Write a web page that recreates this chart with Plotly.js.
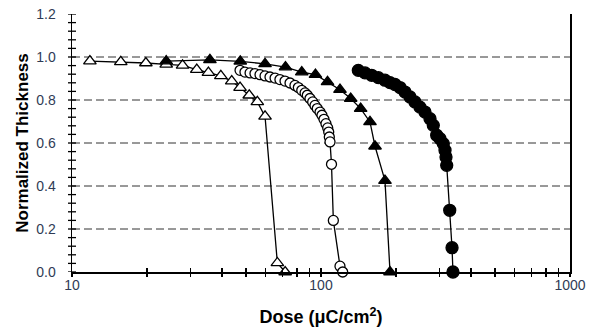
<!DOCTYPE html>
<html>
<head>
<meta charset="utf-8">
<script src="https://cdn.plot.ly/plotly-3.0.1.min.js"></script>
<style>html,body{margin:0;padding:0;background:#fff;}#chart{width:589px;height:333px;}</style>
</head>
<body>
<div id="chart"></div>
<script>
// Open triangles
const openTriX = [11.8, 15.7, 19.8, 23.9, 27.8, 31.7, 35.3, 39.6, 43.8, 47.3, 51.5, 55.5, 59.6, 66.8, 71.8];
const openTriY = [0.981, 0.977, 0.972, 0.966, 0.961, 0.941, 0.927, 0.912, 0.888, 0.858, 0.822, 0.791, 0.724, 0.042, 0.0];
// Open circles
const openCircX = [47.3, 49.5, 51.9, 54.3, 56.9, 59.6, 62.4, 65.4, 68.4, 71.7, 75.1, 78.6, 81.1, 83.7, 86.3, 88.1, 90.3, 92.6, 94.6, 96.6, 99.1, 100.9, 102.8, 104.7, 106.4, 107.4, 108.0, 108.7, 110.2, 112.1, 119.2, 122.2];
const openCircY = [0.938, 0.930, 0.926, 0.923, 0.918, 0.912, 0.907, 0.902, 0.895, 0.888, 0.879, 0.868, 0.858, 0.845, 0.833, 0.822, 0.807, 0.791, 0.775, 0.760, 0.744, 0.729, 0.710, 0.690, 0.670, 0.651, 0.628, 0.605, 0.501, 0.240, 0.027, 0.0];
// Filled triangles
const filledTriX = [23.9, 35.8, 47.4, 59.6, 72.0, 83.7, 95.0, 106.2, 119.2, 131.6, 144.3, 157.3, 164.8, 180.7, 189.3];
const filledTriY = [0.981, 0.987, 0.980, 0.968, 0.953, 0.930, 0.918, 0.884, 0.848, 0.807, 0.760, 0.698, 0.585, 0.425, 0.0];
// Filled circles
const filledCircX = [141.2, 150.2, 159.8, 169.9, 180.7, 189.3, 198.3, 207.7, 217.5, 227.8, 238.5, 249.7, 261.6, 274.0, 282.5, 291.5, 300.6, 309.8, 314.8, 317.7, 319.8, 328.8, 335.9, 338.8];
const filledCircY = [0.938, 0.926, 0.915, 0.904, 0.892, 0.881, 0.872, 0.858, 0.837, 0.814, 0.791, 0.767, 0.744, 0.713, 0.682, 0.636, 0.620, 0.597, 0.566, 0.535, 0.496, 0.287, 0.113, 0.0];

// Tick positions (major + minor) and labels
const xTickVals = [10, 20, 30, 40, 50, 60, 70, 80, 90, 100, 200, 300, 400, 500, 600, 700, 800, 900, 1000];
const xTickText = ['10', '', '', '', '', '', '', '', '', '100', '', '', '', '', '', '', '', '', '1000'];
const yTickVals = [0, 0.04, 0.08, 0.12, 0.16, 0.2, 0.24, 0.28, 0.32, 0.36, 0.4, 0.44, 0.48, 0.52, 0.56, 0.6, 0.64, 0.68, 0.72, 0.76, 0.8, 0.84, 0.88, 0.92, 0.96, 1.0, 1.04, 1.08, 1.12, 1.16, 1.2];
const yTickText = ['0.0', '', '', '', '', '0.2', '', '', '', '', '0.4', '', '', '', '', '0.6', '', '', '', '', '0.8', '', '', '', '', '1.0', '', '', '', '', '1.2'];
const gridVals = [0.2, 0.4, 0.6, 0.8, 1.0];
const xTitle = 'Dose (μC/cm<sup>2</sup>)';
const yTitle = 'Normalized Thickness';

function series(x, y, symbol, size, fill, name) {
  return {
    x: x, y: y, type: 'scatter', mode: 'lines+markers', name: name,
    line: {color: '#000', width: 1.3},
    marker: {symbol: symbol, size: size, color: fill, line: {color: '#000', width: 1.3}},
    cliponaxis: false
  };
}

const data = [
  series(openTriX, openTriY, 'triangle-up', 11, '#fff', 'open triangles'),
  series(openCircX, openCircY, 'circle', 10, '#fff', 'open circles'),
  series(filledTriX, filledTriY, 'triangle-up', 11, '#000', 'filled triangles'),
  series(filledCircX, filledCircY, 'circle', 12, '#000', 'filled circles'),
  {x: [], y: [], type: 'scatter', xaxis: 'x2', yaxis: 'y2', showlegend: false, hoverinfo: 'skip'},
  {x: [], y: [], type: 'scatter', xaxis: 'x3', yaxis: 'y3', showlegend: false, hoverinfo: 'skip'}
];

const tickFont = {family: 'Liberation Sans, Arial, sans-serif', size: 14, color: '#2f3b55'};
const yTitleFont = {family: 'Liberation Sans, Arial, sans-serif', size: 17, color: '#000', weight: 'bold'};
const xTitleFont = {family: 'Liberation Sans, Arial, sans-serif', size: 18, color: '#000', weight: 'bold'};

const plotWidthPx = 498;
const gridShapes = gridVals.map(v => ({
  type: 'line', xref: 'paper', yref: 'y', x0: 0, x1: 1, y0: v, y1: v,
  line: {color: '#333', width: 1, dash: '8px,4px'}, layer: 'below'
}));
// crossing tick marks on the y axis (4 px each side of the axis line)
const yTickShapes = yTickVals.map(v => ({
  type: 'line', xref: 'paper', yref: 'y', x0: -4 / plotWidthPx, x1: 4 / plotWidthPx, y0: v, y1: v,
  line: {color: '#000', width: 1.3}, layer: 'above'
}));

function tickAxisX(dir, anchor) {
  return {type: 'log', range: [1, 3], overlaying: 'x', anchor: anchor, side: 'bottom',
    tickmode: 'array', tickvals: xTickVals, showticklabels: false,
    showgrid: false, zeroline: false, showline: false,
    ticks: dir, ticklen: 4, tickwidth: 1.3, tickcolor: '#000'};
}
function tickAxisY(anchor) {
  return {range: [0, 1.2], overlaying: 'y', anchor: anchor, side: 'left',
    showticklabels: false, showgrid: false, zeroline: false, showline: false, ticks: ''};
}

const layout = {
  width: 589, height: 333,
  margin: {l: 72, r: 19, t: 14, b: 61},
  paper_bgcolor: '#fff', plot_bgcolor: '#fff',
  showlegend: false,
  shapes: gridShapes.concat(yTickShapes),
  xaxis: {
    type: 'log', range: [1, 3], tickmode: 'array', tickvals: xTickVals, ticktext: xTickText,
    showgrid: false, zeroline: false,
    showline: true, linecolor: '#000', linewidth: 1.5,
    ticks: 'outside', ticklen: 0, tickcolor: 'rgba(0,0,0,0)',
    tickfont: tickFont,
    title: {text: xTitle, font: xTitleFont, standoff: 18}
  },
  yaxis: {
    range: [0, 1.2], tickmode: 'array', tickvals: yTickVals, ticktext: yTickText,
    showgrid: false, zeroline: false,
    showline: true, linecolor: '#000', linewidth: 1.5, mirror: true,
    ticks: 'outside', ticklen: 12, tickcolor: 'rgba(0,0,0,0)',
    tickfont: tickFont,
    title: {text: yTitle, font: yTitleFont, standoff: 3}
  },
  xaxis2: tickAxisX('outside', 'y2'),
  xaxis3: tickAxisX('inside', 'y3'),
  yaxis2: tickAxisY('x2'),
  yaxis3: tickAxisY('x3')
};

Plotly.newPlot('chart', data, layout, {staticPlot: true, displayModeBar: false});
</script>
</body>
</html>
